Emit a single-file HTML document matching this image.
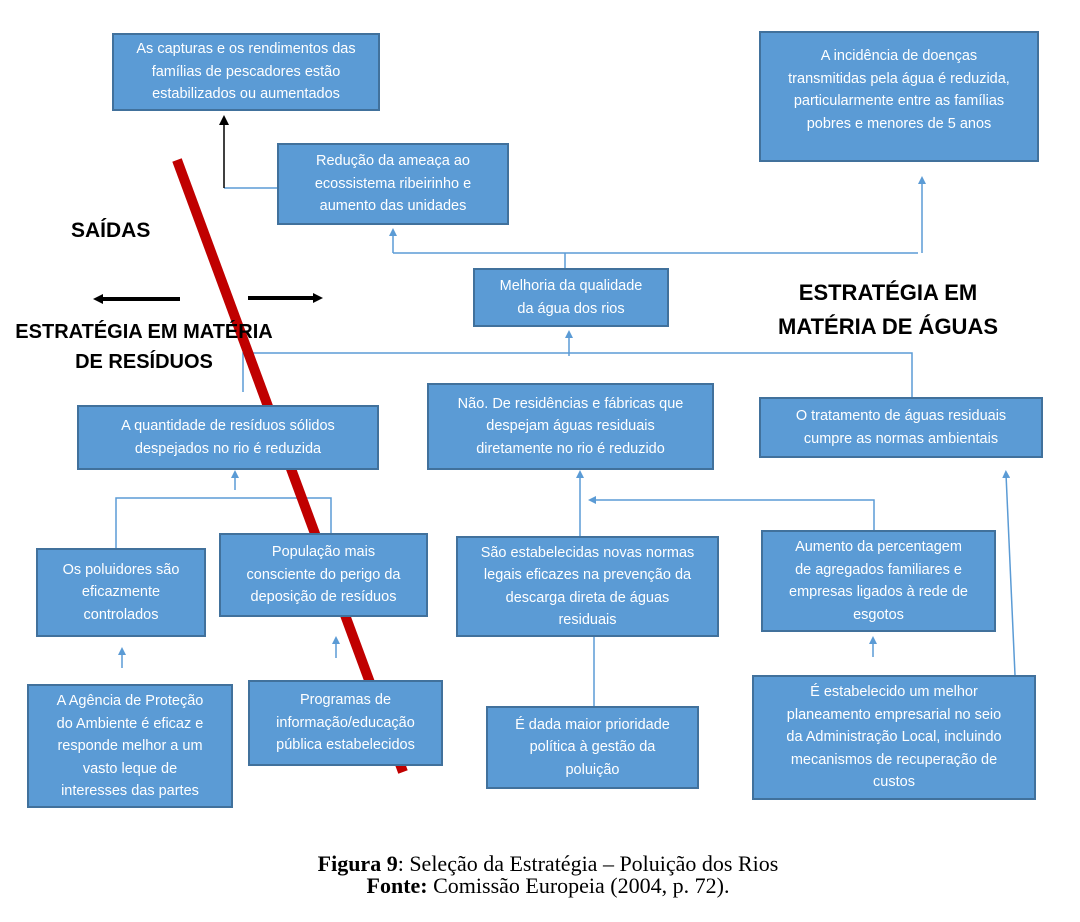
<!DOCTYPE html>
<html><head><meta charset="utf-8"><style>
body{margin:0;width:1080px;height:922px;background:#fff;position:relative;overflow:hidden;font-family:"Liberation Sans",sans-serif}
.b{position:absolute;box-sizing:border-box;background:#5b9bd5;border:2px solid #41719c;color:#fff;font-size:14.5px;line-height:22.5px;text-align:center;display:flex;align-items:center;justify-content:center;padding:0;white-space:nowrap}
.t{position:absolute;font-weight:bold;color:#000;text-align:center;white-space:nowrap}
svg{position:absolute;left:0;top:0}
</style></head><body>
<svg width="1080" height="922">
<defs>
<marker id="a" markerWidth="8" markerHeight="8" refX="4" refY="4" orient="auto" markerUnits="userSpaceOnUse"><path d="M0,0 L8,4 L0,8 z" fill="#5b9bd5"/></marker>
<marker id="k" markerWidth="10" markerHeight="10" refX="5" refY="5" orient="auto" markerUnits="userSpaceOnUse"><path d="M0,0 L10,5 L0,10 z" fill="#000"/></marker>
</defs>
<g stroke="#5b9bd5" stroke-width="1.5" fill="none">
<path d="M224,188 H277"/>
<path d="M565,268 V253 M393,253 H918"/>
<path d="M393,253 V232" marker-end="url(#a)"/>
<path d="M922,253 V180" marker-end="url(#a)"/>
<path d="M243,392 V353 H912 V397"/>
<path d="M569,356 V334" marker-end="url(#a)"/>
<path d="M235,490 V474" marker-end="url(#a)"/>
<path d="M116,548 V498 H331 V533"/>
<path d="M580,536 V474" marker-end="url(#a)"/>
<path d="M874,530 V500 H592" marker-end="url(#a)"/>
<path d="M1015,675 L1006,474" marker-end="url(#a)"/>
<path d="M594,637 V706"/>
<path d="M122,668 V651" marker-end="url(#a)"/>
<path d="M336,658 V640" marker-end="url(#a)"/>
<path d="M873,657 V640" marker-end="url(#a)"/>
</g>
<path d="M224,188 V120" stroke="#000" stroke-width="1.5" marker-end="url(#k)"/>
<path d="M180,299 H98" stroke="#000" stroke-width="4" marker-end="url(#k)"/>
<path d="M248,298 H318" stroke="#000" stroke-width="4" marker-end="url(#k)"/>
<path d="M177,160 L403,772" stroke="#c00000" stroke-width="10"/>
</svg>
<div class="b" style="left:112px;top:33px;width:268px;height:78px">As capturas e os rendimentos das<br>famílias de pescadores estão<br>estabilizados ou aumentados</div>
<div class="b" style="left:759px;top:31px;width:280px;height:131px;align-items:flex-start;padding-top:12px">A incidência de doenças<br>transmitidas pela água é reduzida,<br>particularmente entre as famílias<br>pobres e menores de 5 anos</div>
<div class="b" style="left:277px;top:143px;width:232px;height:82px">Redução da ameaça ao<br>ecossistema ribeirinho e<br>aumento das unidades</div>
<div class="b" style="left:473px;top:268px;width:196px;height:59px">Melhoria da qualidade<br>da água dos rios</div>
<div class="b" style="left:77px;top:405px;width:302px;height:65px">A quantidade de resíduos sólidos<br>despejados no rio é reduzida</div>
<div class="b" style="left:427px;top:383px;width:287px;height:87px">Não. De residências e fábricas que<br>despejam águas residuais<br>diretamente no rio é reduzido</div>
<div class="b" style="left:759px;top:397px;width:284px;height:61px">O tratamento de águas residuais<br>cumpre as normas ambientais</div>
<div class="b" style="left:36px;top:548px;width:170px;height:89px">Os poluidores são<br>eficazmente<br>controlados</div>
<div class="b" style="left:219px;top:533px;width:209px;height:84px">População mais<br>consciente do perigo da<br>deposição de resíduos</div>
<div class="b" style="left:456px;top:536px;width:263px;height:101px">São estabelecidas novas normas<br>legais eficazes na prevenção da<br>descarga direta de águas<br>residuais</div>
<div class="b" style="left:761px;top:530px;width:235px;height:102px">Aumento da percentagem<br>de agregados familiares e<br>empresas ligados à rede de<br>esgotos</div>
<div class="b" style="left:27px;top:684px;width:206px;height:124px;align-items:flex-start;padding-top:4px">A Agência de Proteção<br>do Ambiente é eficaz e<br>responde melhor a um<br>vasto leque de<br>interesses das partes</div>
<div class="b" style="left:248px;top:680px;width:195px;height:86px">Programas de<br>informação/educação<br>pública estabelecidos</div>
<div class="b" style="left:486px;top:706px;width:213px;height:83px">É dada maior prioridade<br>política à gestão da<br>poluição</div>
<div class="b" style="left:752px;top:675px;width:284px;height:125px">É estabelecido um melhor<br>planeamento empresarial no seio<br>da Administração Local, incluindo<br>mecanismos de recuperação de<br>custos</div>
<div class="t" style="left:71px;top:219px;font-size:21px">SAÍDAS</div>
<div class="t" style="left:0px;top:317px;width:288px;font-size:20px;line-height:30px">ESTRATÉGIA EM MATÉRIA<br>DE RESÍDUOS</div>
<div class="t" style="left:760px;top:276px;width:256px;font-size:22px;line-height:34px">ESTRATÉGIA EM<br>MATÉRIA DE ÁGUAS</div>
<div style="position:absolute;left:0;top:853px;width:1096px;text-align:center;font-family:'Liberation Serif',serif;font-size:22px;line-height:22px;white-space:nowrap"><b>Figura 9</b>: Seleção da Estratégia – Poluição dos Rios<br><b>Fonte:</b> Comissão Europeia (2004, p. 72).</div>
</body></html>
